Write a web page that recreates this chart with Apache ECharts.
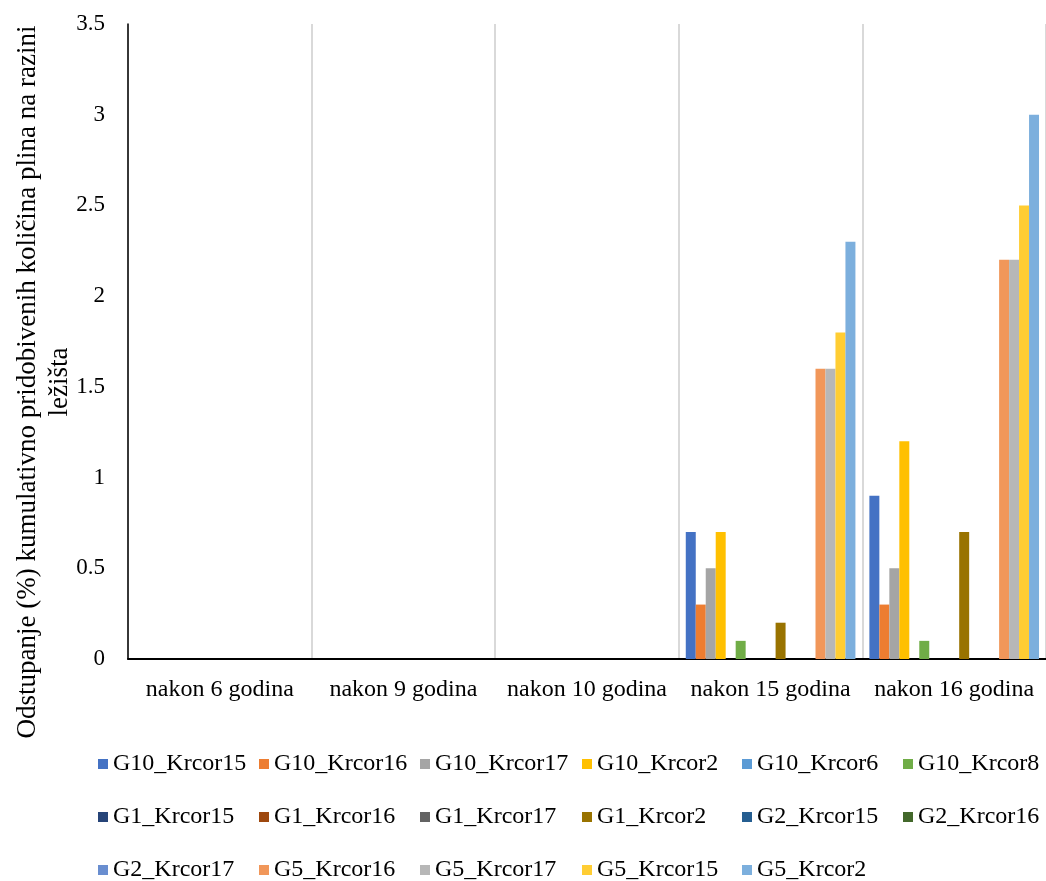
<!DOCTYPE html>
<html><head><meta charset="utf-8">
<script src="https://cdn.jsdelivr.net/npm/echarts@6/dist/echarts.min.js"></script>
<style>html,body{margin:0;padding:0;background:#fff}#c{width:1046px;height:881px}</style>
</head><body><div id="c"></div>
<script>
const categories = ['nakon 6 godina','nakon 9 godina','nakon 10 godina','nakon 15 godina','nakon 16 godina'];
const seriesNames = ['G10_Krcor15','G10_Krcor16','G10_Krcor17','G10_Krcor2','G10_Krcor6','G10_Krcor8',
  'G1_Krcor15','G1_Krcor16','G1_Krcor17','G1_Krcor2','G2_Krcor15','G2_Krcor16',
  'G2_Krcor17','G5_Krcor16','G5_Krcor17','G5_Krcor15','G5_Krcor2'];
const G10_Krcor15 = [0,0,0,0.7,0.9];
const G10_Krcor16 = [0,0,0,0.3,0.3];
const G10_Krcor17 = [0,0,0,0.5,0.5];
const G10_Krcor2  = [0,0,0,0.7,1.2];
const G10_Krcor6  = [0,0,0,0,0];
const G10_Krcor8  = [0,0,0,0.1,0.1];
const G1_Krcor15  = [0,0,0,0,0];
const G1_Krcor16  = [0,0,0,0,0];
const G1_Krcor17  = [0,0,0,0,0];
const G1_Krcor2   = [0,0,0,0.2,0.7];
const G2_Krcor15  = [0,0,0,0,0];
const G2_Krcor16  = [0,0,0,0,0];
const G2_Krcor17  = [0,0,0,0,0];
const G5_Krcor16  = [0,0,0,1.6,2.2];
const G5_Krcor17  = [0,0,0,1.6,2.2];
const G5_Krcor15  = [0,0,0,1.8,2.5];
const G5_Krcor2   = [0,0,0,2.3,3.0];
const seriesValues = [G10_Krcor15,G10_Krcor16,G10_Krcor17,G10_Krcor2,G10_Krcor6,G10_Krcor8,
  G1_Krcor15,G1_Krcor16,G1_Krcor17,G1_Krcor2,G2_Krcor15,G2_Krcor16,
  G2_Krcor17,G5_Krcor16,G5_Krcor17,G5_Krcor15,G5_Krcor2];
const colors = ['#4472C4','#ED7D31','#A5A5A5','#FFC000','#5B9BD5','#70AD47',
  '#264478','#9E480E','#636363','#997300','#255E91','#43682B',
  '#698ED0','#F1975A','#B7B7B7','#FFCD33','#7CAFDD'];
const yTitle = 'Odstupanje (%) kumulativno pridobivenih količina plina na razini\nležišta';

const FONT = '"Liberation Serif", "Times New Roman", serif';
const chart = echarts.init(document.getElementById('c'));
// legend: grid of 6 columns x 3 rows, one legend box per item
const colLefts = [98, 259, 420, 582, 742, 903];
const rowTops = [752, 805, 858];
const legends = seriesNames.map((n, i) => ({
  data: [n],
  left: colLefts[i % 6], top: rowTops[Math.floor(i / 6)], orient: 'horizontal',
  itemWidth: 10, itemHeight: 10, icon: 'rect', padding: 0,
  textStyle: { fontFamily: FONT, fontSize: 24, color: '#000' }
}));
chart.setOption({
  color: colors,
  animation: false,
  textStyle: { fontFamily: FONT },
  grid: { left: 128, top: 24, width: 920, bottom: 222, containLabel: false },
  legend: legends,
  graphic: [{
    type: 'text', x: 44, y: 382, rotation: Math.PI / 2,
    style: { text: yTitle, font: '27px ' + FONT, fill: '#000', align: 'center', verticalAlign: 'middle', lineHeight: 32 }
  }],
  xAxis: {
    type: 'category', data: categories,
    axisLine: { show: true, lineStyle: { color: '#000', width: 2 } },
    axisTick: { show: false },
    splitLine: { show: true, interval: 0, lineStyle: { color: '#D9D9D9', width: 2 } },
    axisLabel: { color: '#000', fontSize: 24, fontFamily: FONT, margin: 19, interval: 0 }
  },
  yAxis: {
    type: 'value', min: 0, max: 3.5, interval: 0.5,
    axisLine: { show: true, lineStyle: { color: '#000', width: 1.5 } },
    axisTick: { show: false },
    splitLine: { show: false },
    axisLabel: { color: '#000', fontSize: 23, fontFamily: FONT, margin: 23 }
  },
  series: seriesNames.map((n, i) => ({
    name: n, type: 'bar', data: seriesValues[i],
    barGap: '0%', barCategoryGap: '7.6%',
    itemStyle: { color: colors[i] }
  }))
});
</script></body></html>
